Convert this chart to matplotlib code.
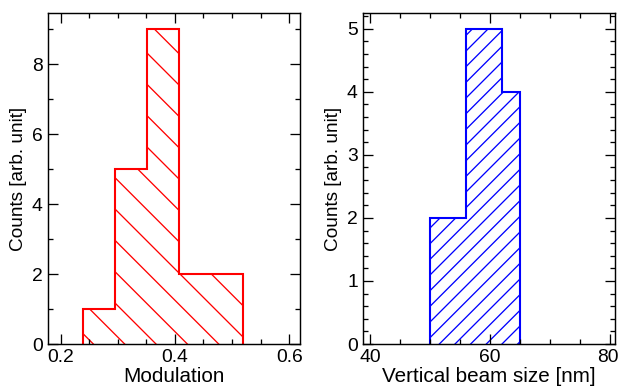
import matplotlib
matplotlib.use("Agg")
import matplotlib.pyplot as plt
import matplotlib.transforms as mtransforms
from matplotlib.ticker import MultipleLocator

# Data
mod_edges = [0.24, 0.296, 0.352, 0.408, 0.464, 0.52]
mod_counts = [1, 5, 9, 2, 2]
beam_edges = [50, 53, 56, 59, 62, 65]
beam_counts = [2, 2, 5, 5, 4]

DPI = 188
plt.rcParams['font.family'] = ['Liberation Sans', 'DejaVu Sans']
plt.rcParams['hatch.linewidth'] = 0.5

fig = plt.figure(figsize=(619 / DPI, 391 / DPI), dpi=DPI)
ax1 = fig.add_axes([48 / 619, 47 / 391, 252 / 619, 331 / 391])
ax2 = fig.add_axes([363 / 619, 47 / 391, 252 / 619, 331 / 391])

ax1.stairs(mod_counts, mod_edges, fill=True, facecolor='none',
           edgecolor='#ff0000', hatch='\\\\', linewidth=0.8)
ax2.stairs(beam_counts, beam_edges, fill=True, facecolor='none',
           edgecolor='#0000ff', hatch='////', linewidth=0.8)

ax1.set_xlim(0.178, 0.619)
ax1.set_ylim(0, 9.46)
ax1.xaxis.set_major_locator(MultipleLocator(0.2))
ax1.xaxis.set_minor_locator(MultipleLocator(0.05))
ax1.yaxis.set_major_locator(MultipleLocator(2))
ax1.yaxis.set_minor_locator(MultipleLocator(1))
ax1.set_xlabel('Modulation', fontsize=7.9, labelpad=0.3)
ax1.set_ylabel('Counts [arb. unit]', fontsize=7.3, labelpad=2)

ax2.set_xlim(38.76, 80.84)
ax2.set_ylim(0, 5.25)
ax2.xaxis.set_major_locator(MultipleLocator(20))
ax2.xaxis.set_minor_locator(MultipleLocator(5))
ax2.yaxis.set_major_locator(MultipleLocator(1))
ax2.yaxis.set_minor_locator(MultipleLocator(0.2))
ax2.set_xlabel('Vertical beam size [nm]', fontsize=7.9, labelpad=0.3)
ax2.set_ylabel('Counts [arb. unit]', fontsize=7.3, labelpad=2)

for ax in (ax1, ax2):
    for s in ax.spines.values():
        s.set_linewidth(0.55)
    ax.tick_params(which='both', direction='in', top=True, right=True,
                   width=0.5, labelsize=7.4, pad=2)
    ax.tick_params(which='major', length=3.8)
    ax.tick_params(which='minor', length=1.9)

fig.canvas.draw()
# nudge the last x tick label of the right panel inside the canvas
shift = mtransforms.ScaledTranslation(-2.5 / DPI, 0, fig.dpi_scale_trans)
for tick in ax2.xaxis.get_major_ticks():
    if abs(tick.get_loc() - 80) < 1e-6:
        tick.label1.set_transform(tick.label1.get_transform() + shift)

fig.savefig('out.png', dpi=DPI)
